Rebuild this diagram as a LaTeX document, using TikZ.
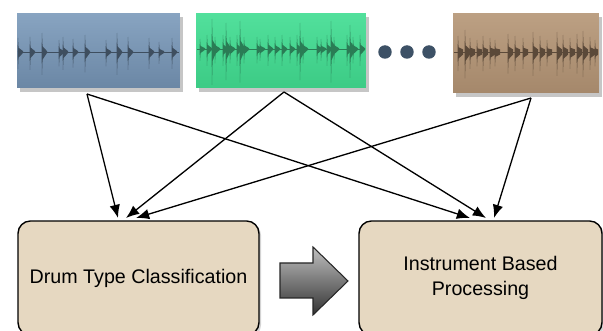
\documentclass[tikz,border=0pt]{standalone}
\usepackage{fontspec}
\setmainfont{Liberation Sans}
\usetikzlibrary{arrows.meta,shadows}
\definecolor{clipblueA}{HTML}{88A4C1}
\definecolor{clipblueB}{HTML}{6B87A5}
\definecolor{clipblueW}{HTML}{3E4E5F}
\definecolor{clipgreenA}{HTML}{52E09C}
\definecolor{clipgreenB}{HTML}{3CCB85}
\definecolor{clipgreenW}{HTML}{2A7C55}
\definecolor{clipbrownA}{HTML}{BCA083}
\definecolor{clipbrownB}{HTML}{A5886B}
\definecolor{clipbrownW}{HTML}{5B4939}
\definecolor{stagefill}{HTML}{E6D8C1}
\definecolor{dotgray}{HTML}{3D5166}

\begin{document}
\begin{tikzpicture}[x=0.02cm, y=-0.02cm,
  font=\fontsize{11.2}{14.2}\selectfont,
  clipbox/.style={draw=none, inner sep=0pt, minimum height=1.5cm,
    drop shadow={shadow xshift=1.5pt, shadow yshift=-2pt, opacity=0.45}},
  stage/.style={draw=black, line width=0.8pt, rounded corners=7pt,
    fill=stagefill, minimum width=4.82cm, minimum height=2.28cm,
    align=center, inner sep=0pt,
    drop shadow={shadow xshift=1.2pt, shadow yshift=-1.2pt, opacity=0.35}},
  feed/.style={line width=0.75pt, -{Latex[length=7.5pt,width=6pt]}},
  dot/.style={circle, fill=dotgray, minimum size=0.27cm, inner sep=0pt},
]
\useasboundingbox (0,0) rectangle (603,331);

% drum loops
\node[clipbox, top color=clipblueA, bottom color=clipblueB,
  minimum width=3.26cm] (w1) at (98.5,50.5) {};
\node[clipbox, top color=clipgreenA, bottom color=clipgreenB,
  minimum width=3.4cm] (w2) at (281,50.5) {};
\node[clipbox, top color=clipbrownA, bottom color=clipbrownB,
  minimum width=2.92cm, minimum height=1.6cm] (w3) at (526,53) {};
\foreach \n/\x in {d1/385, d2/407, d3/429}
  \node[dot] (\n) at (\x,52) {};

% waveforms: centre line, then one decaying hit per entry
\foreach \cy/\xa/\xb/\tl/\wc/\lst in {
    52/18/179/0.9/clipblueW/{18/14,30/15,42/19,59/12,63/15,73/13,85/17,
      106/12,117/19,128/15,149/14,159/10,172/14},
    49/197/365/0.8/clipgreenW/{200/10,207/14,212/30,215/12,223/14,226/26,
      230/12,237/14,240/28,244/12,257/12,260/10,268/14,275/12,282/14,
      290/12,297/14,300/26,303/12,317/12,321/10,327/14,331/28,334/12,
      347/14,350/24,353/12,360/14},
    52/454/598/2.6/clipbrownW/{458/16,465/22,470/14,477/12,483/16,490/14,
      495/12,508/18,515/16,523/14,533/20,540/16,547/12,557/20,563/17,
      570/14,577/18,583/21,590/15,595/12}} {
  \draw[\wc, line width=0.5pt] (\xa,\cy) -- (\xb,\cy);
  \foreach \x/\h in \lst {
    \fill[\wc] ({\x-0.5},\cy) -- (\x,{\cy-\h}) -- ({\x+0.6},{\cy-0.3*\h})
      -- ({min(\x+5,\xb)},{\cy-\tl}) -- ({min(\x+5,\xb)},{\cy+\tl})
      -- ({\x+0.6},{\cy+0.4*\h}) -- (\x,{\cy+1.2*\h}) -- cycle;
  }
}

% processing stages
\node[stage] (pa) at (138.5,278) {Drum Type Classification};
\node[stage, minimum width=4.86cm] (pb) at (480.5,278)
  {Instrument Based\\Processing};
\shade[top color=black!25, bottom color=black!80, draw=black!85,
  line width=0.6pt] (280,263) -- (313,263) -- (313,247) -- (348,281)
  -- (313,315) -- (313,298) -- (280,298) -- cycle;

% every loop feeds both stages
\coordinate (w1o) at (87,94);
\coordinate (w2o) at (284,92);
\coordinate (w3o) at (531,98);
\coordinate (pa1) at (118,218);
\coordinate (pa2) at (126,218);
\coordinate (pa3) at (136,218);
\coordinate (pb1) at (470,218);
\coordinate (pb2) at (486,218);
\coordinate (pb3) at (494,218);
\draw[feed] (w1o) -- (pa1);
\draw[feed] (w1o) -- (pb1);
\draw[feed] (w2o) -- (pa2);
\draw[feed] (w2o) -- (pb2);
\draw[feed] (w3o) -- (pa3);
\draw[feed] (w3o) -- (pb3);
\end{tikzpicture}
\end{document}
